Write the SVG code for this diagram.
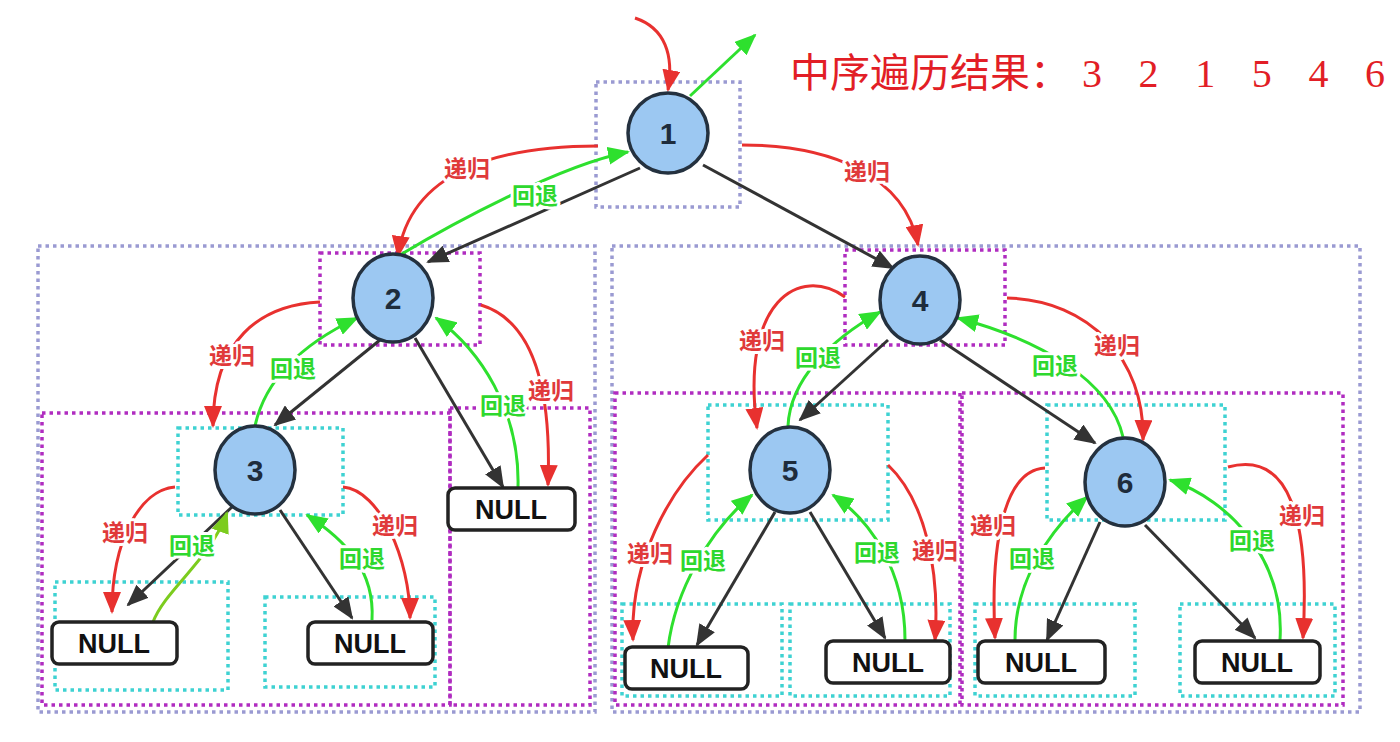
<svg xmlns="http://www.w3.org/2000/svg" width="1400" height="742" viewBox="0 0 1400 742">
<defs>
<marker id="ar" markerWidth="22" markerHeight="18" refX="20" refY="9" orient="auto" markerUnits="userSpaceOnUse"><path d="M0,0 L22,9 L0,18 Z" fill="#e8312f"/></marker>
<marker id="ag" markerWidth="22" markerHeight="18" refX="20" refY="9" orient="auto" markerUnits="userSpaceOnUse"><path d="M0,0 L22,9 L0,18 Z" fill="#2ee02e"/></marker>
<marker id="ay" markerWidth="22" markerHeight="18" refX="20" refY="9" orient="auto" markerUnits="userSpaceOnUse"><path d="M0,0 L22,9 L0,18 Z" fill="#7ccc1e"/></marker>
<marker id="ab" markerWidth="22" markerHeight="18" refX="20" refY="9" orient="auto" markerUnits="userSpaceOnUse"><path d="M0,0 L22,9 L0,18 Z" fill="#333333"/></marker>
</defs>
<style>
.lav{fill:none;stroke:#9a9ad2;stroke-width:3.5;stroke-dasharray:3.5 4}
.mag{fill:none;stroke:#b02cc0;stroke-width:3.5;stroke-dasharray:3.5 4}
.cya{fill:none;stroke:#3ed2d2;stroke-width:3.5;stroke-dasharray:3.5 4}
.node circle,.node ellipse{fill:#9cc8f2;stroke:#24313f;stroke-width:3.5}
.node text{font-family:"Liberation Sans",Arial,sans-serif;font-weight:bold;font-size:30px;fill:#1e2c3c;text-anchor:middle}
.null rect{fill:#ffffff;stroke:#222222;stroke-width:3.5}
.null text{font-family:"Liberation Sans",Arial,sans-serif;font-weight:bold;font-size:27px;fill:#111111;text-anchor:middle}
.e{fill:none;stroke:#333333;stroke-width:3;marker-end:url(#ab)}
.r{fill:none;stroke:#e8312f;stroke-width:3;marker-end:url(#ar)}
.g{fill:none;stroke:#2ee02e;stroke-width:3;marker-end:url(#ag)}
.y{fill:none;stroke:#7ccc1e;stroke-width:3;marker-end:url(#ay)}
.lr,.lg{font-family:"Noto Sans CJK SC",sans-serif;font-weight:bold;font-size:23px;text-anchor:middle;paint-order:stroke;stroke:#ffffff;stroke-width:6;stroke-linejoin:round}
.lr{fill:#e0393a}
.lg{fill:#2ed82e}
.title{font-size:40px;fill:#e21e26}
</style>
<rect width="1400" height="742" fill="#ffffff"/>

<g id="frames">
<rect class="lav" x="596" y="82" width="144" height="125"/>
<rect class="lav" x="38" y="246" width="557" height="466"/>
<rect class="lav" x="612" y="246" width="748" height="466"/>
<rect class="mag" x="320" y="253" width="160" height="92"/>
<rect class="mag" x="845" y="250" width="160" height="95"/>
<rect class="mag" x="42" y="413" width="408" height="292"/>
<rect class="mag" x="450" y="408" width="140" height="297"/>
<rect class="mag" x="615" y="393" width="345" height="312"/>
<rect class="mag" x="962" y="393" width="381" height="312"/>
<rect class="cya" x="178" y="428" width="165" height="87"/>
<rect class="cya" x="55" y="582" width="173" height="108"/>
<rect class="cya" x="265" y="597" width="170" height="90"/>
<rect class="cya" x="708" y="405" width="180" height="115"/>
<rect class="cya" x="1047" y="405" width="178" height="115"/>
<rect class="cya" x="622" y="604" width="160" height="92"/>
<rect class="cya" x="790" y="604" width="160" height="92"/>
<rect class="cya" x="975" y="604" width="160" height="92"/>
<rect class="cya" x="1180" y="604" width="155" height="92"/>
</g>

<g id="connectors">
<path class="e" d="M640,168 L428,262"/>
<path class="e" d="M703,165 L893,268"/>
<path class="e" d="M380,340 L275,425"/>
<path class="e" d="M415,338 L503,487"/>
<path class="e" d="M232,507 L128,605"/>
<path class="e" d="M280,510 L352,618"/>
<path class="e" d="M888,340 L800,420"/>
<path class="e" d="M940,340 L1095,443"/>
<path class="e" d="M775,512 L697,645"/>
<path class="e" d="M810,512 L885,638"/>
<path class="e" d="M1100,522 L1047,640"/>
<path class="e" d="M1145,525 L1255,638"/>

<path class="r" d="M635,18 C665,28 674,55 668,90"/>
<path class="g" d="M690,96 L755,35"/>
<path class="r" d="M598,146 C500,146 410,170 398,256"/>
<path class="g" d="M400,255 C450,225 560,165 628,152"/>
<path class="r" d="M742,145 C830,145 905,175 918,245"/>

<path class="r" d="M320,302 C260,305 213,340 213,426"/>
<path class="g" d="M255,426 C265,380 300,345 357,318"/>
<path class="g" d="M518,487 C520,410 480,350 436,318"/>
<path class="r" d="M481,305 C530,320 552,380 548,485"/>

<path class="r" d="M175,487 C140,490 112,540 112,612"/>
<path class="y" d="M153,622 C165,590 210,560 227,513"/>
<path class="r" d="M343,487 C380,490 410,560 410,618"/>
<path class="g" d="M372,620 C375,570 345,540 307,515"/>

<path class="r" d="M845,297 C800,265 740,300 757,428"/>
<path class="g" d="M788,426 C790,380 830,340 880,312"/>
<path class="r" d="M1007,298 C1090,300 1145,360 1143,440"/>
<path class="g" d="M1123,437 C1110,380 1040,340 958,318"/>

<path class="r" d="M708,455 C670,490 630,560 633,640"/>
<path class="g" d="M668,648 C675,590 710,530 752,495"/>
<path class="g" d="M905,640 C905,570 870,520 833,495"/>
<path class="r" d="M888,465 C925,500 940,570 935,640"/>

<path class="r" d="M1045,468 C1005,470 990,540 995,638"/>
<path class="g" d="M1015,640 C1015,580 1050,530 1087,497"/>
<path class="g" d="M1280,640 C1285,560 1230,500 1170,480"/>
<path class="r" d="M1228,467 C1290,450 1310,520 1303,638"/>
</g>

<g id="labels">
<text class="lr" x="467" y="177">递归</text>
<text class="lg" x="535" y="204">回退</text>
<text class="lr" x="867" y="180">递归</text>
<text class="lr" x="232" y="364">递归</text>
<text class="lg" x="293" y="377">回退</text>
<text class="lg" x="503" y="414">回退</text>
<text class="lr" x="551" y="399">递归</text>
<text class="lr" x="125" y="541">递归</text>
<text class="lg" x="192" y="554">回退</text>
<text class="lr" x="395" y="534">递归</text>
<text class="lg" x="362" y="567">回退</text>
<text class="lr" x="762" y="349">递归</text>
<text class="lg" x="818" y="366">回退</text>
<text class="lr" x="1117" y="354">递归</text>
<text class="lg" x="1055" y="374">回退</text>
<text class="lr" x="650" y="562">递归</text>
<text class="lg" x="703" y="569">回退</text>
<text class="lg" x="877" y="561">回退</text>
<text class="lr" x="935" y="559">递归</text>
<text class="lr" x="993" y="534">递归</text>
<text class="lg" x="1032" y="567">回退</text>
<text class="lg" x="1252" y="549">回退</text>
<text class="lr" x="1302" y="524">递归</text>
</g>

<g id="n1" class="node"><circle cx="668" cy="133" r="40"/><text x="668" y="144">1</text></g>
<g id="n2" class="node"><ellipse cx="393" cy="298" rx="40" ry="44"/><text x="393" y="309">2</text></g>
<g id="n3" class="node"><ellipse cx="255" cy="470" rx="40" ry="44"/><text x="255" y="481">3</text></g>
<g id="n4" class="node"><ellipse cx="920" cy="300" rx="40" ry="44"/><text x="920" y="311">4</text></g>
<g id="n5" class="node"><ellipse cx="790" cy="470" rx="40" ry="43"/><text x="790" y="481">5</text></g>
<g id="n6" class="node"><ellipse cx="1125" cy="482" rx="40" ry="44"/><text x="1125" y="493">6</text></g>

<g id="null3l" class="null"><rect x="52" y="622" width="125" height="42" rx="7"/><text x="114" y="653">NULL</text></g>
<g id="null3r" class="null"><rect x="308" y="622" width="125" height="42" rx="7"/><text x="370" y="653">NULL</text></g>
<g id="null2r" class="null"><rect x="448" y="488" width="127" height="42" rx="7"/><text x="511" y="519">NULL</text></g>
<g id="null5l" class="null"><rect x="625" y="647" width="123" height="42" rx="7"/><text x="686" y="678">NULL</text></g>
<g id="null5r" class="null"><rect x="826" y="641" width="124" height="42" rx="7"/><text x="888" y="672">NULL</text></g>
<g id="null6l" class="null"><rect x="978" y="641" width="127" height="42" rx="7"/><text x="1041" y="672">NULL</text></g>
<g id="null6r" class="null"><rect x="1195" y="641" width="125" height="42" rx="7"/><text x="1257" y="672">NULL</text></g>

<g id="title">
<text class="title" x="790" y="87" font-family="'Noto Sans CJK SC',sans-serif">中序遍历结果：</text>
<text class="title" x="1082" y="87" font-family="'Liberation Serif',serif" textLength="303" lengthAdjust="spacing">3 2 1 5 4 6</text>
</g>
</svg>
